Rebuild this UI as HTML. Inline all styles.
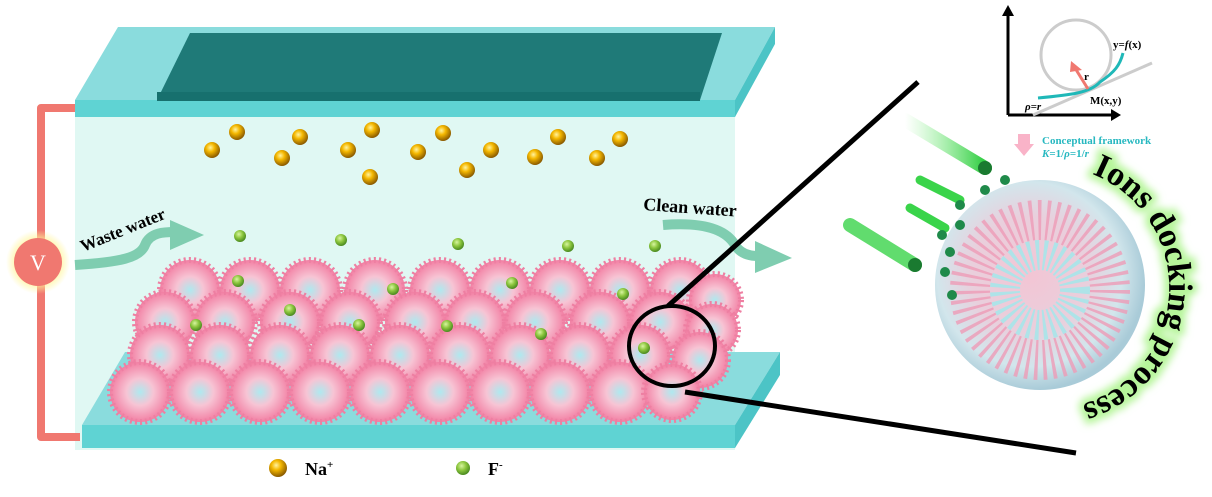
<!DOCTYPE html>
<html><head><meta charset="utf-8"><style>
body{margin:0;width:1212px;height:497px;background:#fff;overflow:hidden}
svg{display:block}
</style></head><body>
<svg width="1212" height="497" viewBox="0 0 1212 497" xmlns="http://www.w3.org/2000/svg" font-family="Liberation Serif, serif">
<defs>
<radialGradient id="gold" cx="40%" cy="35%" r="65%"><stop offset="0" stop-color="#fff3a0"/><stop offset="0.4" stop-color="#f5b800"/><stop offset="1" stop-color="#8a5a00"/></radialGradient>
<radialGradient id="grn" cx="40%" cy="35%" r="65%"><stop offset="0" stop-color="#d8f5a0"/><stop offset="0.5" stop-color="#8cc63e"/><stop offset="1" stop-color="#4a8a20"/></radialGradient>
<radialGradient id="flw" cx="50%" cy="50%" r="50%"><stop offset="0" stop-color="#aee9ef"/><stop offset="0.45" stop-color="#f7c4d4"/><stop offset="1" stop-color="#f27fa3"/></radialGradient>
<radialGradient id="sph" cx="45%" cy="45%" r="55%"><stop offset="0" stop-color="#f3c5d4"/><stop offset="0.5" stop-color="#e9cfdc"/><stop offset="0.8" stop-color="#d2e6ec"/><stop offset="1" stop-color="#a9cbd8"/></radialGradient>
<radialGradient id="vg" r="50%"><stop offset="0.6" stop-color="#fff59a"/><stop offset="1" stop-color="#fff59a" stop-opacity="0"/></radialGradient>
<filter id="glow" x="-20%" y="-20%" width="140%" height="140%"><feGaussianBlur stdDeviation="4"/></filter>
<linearGradient id="com" x1="0" y1="0" x2="1" y2="0"><stop offset="0" stop-color="#7ef07e" stop-opacity="0"/><stop offset="1" stop-color="#2ecc40"/></linearGradient>
<path id="arcp" d="M1092,174 A122,122 0 0 1 1008,403"/>
</defs>
<rect x="75" y="117" width="660" height="333" fill="#e0f8f3"/>
<polygon points="75,100 118,27 775,27 735,100" fill="#8adcdd"/>
<rect x="75" y="100" width="660" height="17" fill="#5fd3d3"/>
<polygon points="735,100 775,27 775,44 735,117" fill="#4cc4c6"/>
<polygon points="157,100 190,33 722,33 700,100" fill="#1f7a78"/>
<rect x="157" y="92" width="543" height="9" fill="#17706e"/>
<polygon points="82,425 125,352 780,352 735,425" fill="#8adcdd"/>
<rect x="82" y="425" width="653" height="23" fill="#5fd3d3"/>
<polygon points="735,425 780,352 780,375 735,448" fill="#4cc4c6"/>
<path d="M75,108 H41 V437 H80" fill="none" stroke="#f07870" stroke-width="8" stroke-linejoin="round"/>
<circle cx="38" cy="262" r="32" fill="url(#vg)"/>
<circle cx="38" cy="262" r="24" fill="#f07870"/>
<text x="38" y="270" text-anchor="middle" font-size="22" fill="#fff">V</text>
<g stroke="#ee7fa2" stroke-width="6" stroke-dasharray="2 3">
<g fill="url(#flw)">
<circle cx="190" cy="290" r="30"/><circle cx="250" cy="290" r="30"/><circle cx="310" cy="290" r="30"/><circle cx="375" cy="290" r="30"/><circle cx="440" cy="290" r="30"/><circle cx="500" cy="290" r="30"/><circle cx="560" cy="290" r="30"/><circle cx="620" cy="290" r="30"/><circle cx="680" cy="290" r="30"/><circle cx="715" cy="300" r="26"/>
<circle cx="165" cy="322" r="30"/><circle cx="225" cy="322" r="30"/><circle cx="290" cy="322" r="30"/><circle cx="350" cy="322" r="30"/><circle cx="415" cy="322" r="30"/><circle cx="475" cy="322" r="30"/><circle cx="535" cy="322" r="30"/><circle cx="600" cy="322" r="30"/><circle cx="660" cy="322" r="30"/><circle cx="712" cy="330" r="26"/>
<circle cx="160" cy="355" r="30"/><circle cx="220" cy="355" r="30"/><circle cx="280" cy="355" r="30"/><circle cx="340" cy="355" r="30"/><circle cx="400" cy="355" r="30"/><circle cx="460" cy="355" r="30"/><circle cx="520" cy="355" r="30"/><circle cx="580" cy="355" r="30"/><circle cx="640" cy="355" r="30"/><circle cx="700" cy="360" r="28"/>
<circle cx="140" cy="392" r="30"/><circle cx="200" cy="392" r="30"/><circle cx="260" cy="392" r="30"/><circle cx="320" cy="392" r="30"/><circle cx="380" cy="392" r="30"/><circle cx="440" cy="392" r="30"/><circle cx="500" cy="392" r="30"/><circle cx="560" cy="392" r="30"/><circle cx="620" cy="392" r="30"/><circle cx="672" cy="392" r="28"/>
</g></g>
<g fill="url(#gold)">
<circle cx="237" cy="132" r="8"/><circle cx="212" cy="150" r="8"/><circle cx="282" cy="158" r="8"/><circle cx="300" cy="137" r="8"/><circle cx="348" cy="150" r="8"/><circle cx="372" cy="130" r="8"/><circle cx="370" cy="177" r="8"/><circle cx="418" cy="152" r="8"/><circle cx="443" cy="133" r="8"/><circle cx="467" cy="170" r="8"/><circle cx="491" cy="150" r="8"/><circle cx="535" cy="157" r="8"/><circle cx="558" cy="137" r="8"/><circle cx="597" cy="158" r="8"/><circle cx="620" cy="139" r="8"/>
<circle cx="278" cy="468" r="9"/>
</g>
<g fill="url(#grn)">
<circle cx="240" cy="236" r="6"/><circle cx="341" cy="240" r="6"/><circle cx="458" cy="244" r="6"/><circle cx="568" cy="246" r="6"/><circle cx="655" cy="246" r="6"/><circle cx="238" cy="281" r="6"/><circle cx="290" cy="310" r="6"/><circle cx="393" cy="289" r="6"/><circle cx="512" cy="283" r="6"/><circle cx="623" cy="294" r="6"/><circle cx="196" cy="325" r="6"/><circle cx="359" cy="325" r="6"/><circle cx="447" cy="326" r="6"/><circle cx="541" cy="334" r="6"/><circle cx="644" cy="348" r="6"/>
<circle cx="463" cy="468" r="7"/>
</g>
<text x="305" y="475" font-size="18" font-weight="bold">Na<tspan font-size="11" dy="-7">+</tspan></text>
<text x="488" y="475" font-size="18" font-weight="bold">F<tspan font-size="11" dy="-7">-</tspan></text>
<path d="M75,265 C120,262 140,258 145,245 C150,232 165,232 175,232" fill="none" stroke="#7fcdb0" stroke-width="10"/>
<polygon points="170,220 204,235 170,250" fill="#7fcdb0"/>
<text x="0" y="0" font-size="17" font-weight="bold" transform="translate(83,252) rotate(-22)">Waste water</text>
<path d="M663,225 C700,222 725,228 735,245 C740,253 748,256 758,256" fill="none" stroke="#7fcdb0" stroke-width="10"/>
<polygon points="755,241 792,258 755,273" fill="#7fcdb0"/>
<text x="643" y="210" font-size="18" font-weight="bold" transform="rotate(4 643 210)">Clean water</text>
<ellipse cx="672" cy="346" rx="43" ry="40" fill="none" stroke="#000" stroke-width="4"/>
<line x1="668" y1="306" x2="918" y2="82" stroke="#000" stroke-width="5"/>
<line x1="685" y1="392" x2="1076" y2="453" stroke="#000" stroke-width="5"/>
<g stroke-linecap="round">
<line x1="905" y1="120" x2="985" y2="168" stroke="url(#com)" stroke-width="14"/>
<line x1="920" y1="180" x2="960" y2="200" stroke="#3ad44a" stroke-width="9"/>
<line x1="910" y1="208" x2="945" y2="228" stroke="#3ad44a" stroke-width="9"/>
<line x1="850" y1="225" x2="915" y2="265" stroke="#3ad44a" stroke-width="14" opacity="0.8"/>
</g>
<circle cx="985" cy="168" r="7" fill="#1a7a30"/>
<circle cx="915" cy="265" r="7" fill="#1a7a30"/>
<circle cx="1040" cy="285" r="105" fill="url(#sph)"/>
<circle cx="1040" cy="290" r="70" fill="none" stroke="#ee9bb7" stroke-width="40" stroke-dasharray="3 5" opacity="0.8"/>
<circle cx="1040" cy="290" r="35" fill="none" stroke="#aee3e8" stroke-width="30" stroke-dasharray="3 4"/>
<g fill="#1f8a4a">
<circle cx="960" cy="205" r="5"/><circle cx="985" cy="190" r="5"/><circle cx="1005" cy="180" r="5"/><circle cx="942" cy="235" r="5"/><circle cx="950" cy="252" r="5"/><circle cx="945" cy="272" r="5"/><circle cx="960" cy="225" r="5"/><circle cx="952" cy="295" r="5"/>
</g>
<text font-size="34" font-weight="bold" fill="#7ee060" stroke="#b6f59a" stroke-width="10" filter="url(#glow)"><textPath href="#arcp">Ions docking process</textPath></text>
<text font-size="34" font-weight="bold" fill="#000"><textPath href="#arcp">Ions docking process</textPath></text>
<path d="M1008,115 V12 M1008,115 H1115" stroke="#000" stroke-width="3" fill="none"/>
<polygon points="1002,16 1008,5 1014,16" fill="#000"/>
<polygon points="1111,109 1121,115 1111,121" fill="#000"/>
<circle cx="1076" cy="55" r="35" fill="none" stroke="#ccc" stroke-width="3"/>
<line x1="1033" y1="115" x2="1152" y2="63" stroke="#ccc" stroke-width="3"/>
<path d="M1038,98 C1070,95 1090,93 1100,82 C1115,72 1120,65 1123,53" stroke="#1fb8b8" stroke-width="3" fill="none"/>
<line x1="1088" y1="89" x2="1075" y2="68" stroke="#f07870" stroke-width="3"/>
<polygon points="1071,61 1082,70 1070,72" fill="#f07870"/>
<text x="1084" y="80" font-size="11" font-weight="bold">r</text>
<text x="1113" y="48" font-size="11" font-weight="bold">y=<tspan font-style="italic">f</tspan>(x)</text>
<text x="1090" y="104" font-size="11" font-weight="bold">M(x,y)</text>
<text x="1025" y="110" font-size="11" font-weight="bold" font-style="italic">ρ=r</text>
<rect x="1018" y="134" width="12" height="10" fill="#f9b3c8"/>
<polygon points="1014,144 1034,144 1024,156" fill="#f9b3c8"/>
<text x="1042" y="144" font-size="11" font-weight="bold" fill="#27b8c0">Conceptual framework</text>
<text x="1042" y="157" font-size="11" font-weight="bold" fill="#27b8c0"><tspan font-style="italic">K</tspan>=1/<tspan font-style="italic">ρ</tspan>=1/<tspan font-style="italic">r</tspan></text>
</svg>
</body></html>
